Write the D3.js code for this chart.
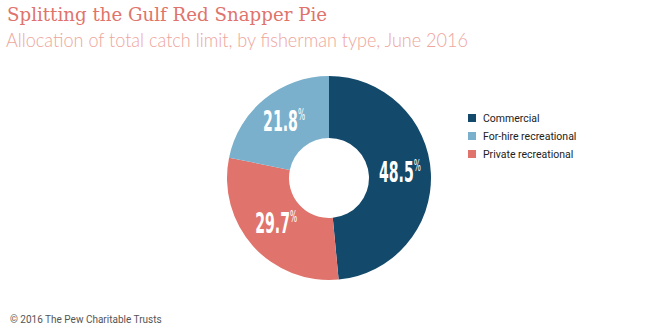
<!DOCTYPE html>
<html><head><meta charset="utf-8">
<script src="https://cdn.jsdelivr.net/npm/d3@7"></script>
<style>body{margin:0;background:#fff}svg{display:block}</style>
</head><body>
<svg id="c" width="660" height="328"></svg>
<script>
const categories = ["Commercial", "Private recreational", "For-hire recreational"];
const values = [48.5, 29.7, 21.8];
const colors = ["#134a6b", "#e0736b", "#7ab0cc"];
const legendOrder = ["Commercial", "For-hire recreational", "Private recreational"];

const svg = d3.select("#c");
svg.append("text").attr("x", 7).attr("y", 21)
  .attr("font-family", "DejaVu Serif, serif").attr("font-size", 19).attr("fill", "#e0736b")
  .attr("textLength", 320).attr("lengthAdjust", "spacingAndGlyphs")
  .text("Splitting the Gulf Red Snapper Pie");
svg.append("text").attr("x", 6).attr("y", 47)
  .attr("font-family", "Lato, sans-serif").attr("font-weight", 300).attr("font-size", 19).attr("fill", "#eea59c")
  .attr("textLength", 462).attr("lengthAdjust", "spacingAndGlyphs")
  .text("Allocation of total catch limit, by fisherman type, June 2016");

const cx = 329, cy = 178, R = 102, r = 40;
const pie = d3.pie().sort(null).value(d => d.v);
const data = categories.map((c, i) => ({c, v: values[i], col: colors[i]}));
const arcs = pie(data);
const arc = d3.arc().innerRadius(r).outerRadius(R);
const g = svg.append("g").attr("transform", `translate(${cx},${cy})`);
g.selectAll("path").data(arcs).join("path").attr("d", arc).attr("fill", d => d.data.col);

const labArc = d3.arc().innerRadius(71).outerRadius(71);
const lab = g.selectAll("g.lab").data(arcs).join("g").attr("class", "lab")
  .attr("transform", d => { const [x, y] = labArc.centroid(d); return `translate(${x},${y + 2})`; });
const t = lab.append("text").attr("text-anchor", "middle").attr("dy", "0.36em")
  .attr("font-family", "DejaVu Sans Condensed, sans-serif").attr("font-weight", "bold")
  .attr("fill", "#fff").attr("transform", "scale(0.56,1)");
t.append("tspan").attr("font-size", 28).text(d => d.data.v.toFixed(1));
t.append("tspan").attr("font-size", 15).attr("font-weight", "normal").attr("dy", "-0.75em").text("%");

const lg = svg.append("g").attr("transform", "translate(468,114)");
legendOrder.forEach((name, i) => {
  const idx = categories.indexOf(name);
  const row = lg.append("g").attr("transform", `translate(0,${i * 18})`);
  row.append("rect").attr("width", 8).attr("height", 8).attr("fill", colors[idx]);
  row.append("text").attr("x", 15).attr("y", 8).attr("font-family", "Roboto, sans-serif")
    .attr("font-size", 10.5).attr("fill", "#222").text(name);
});

svg.append("text").attr("x", 10).attr("y", 323).attr("font-family", "Roboto, sans-serif")
  .attr("font-size", 10).attr("fill", "#555").text("© 2016 The Pew Charitable Trusts");
</script>
</body></html>
